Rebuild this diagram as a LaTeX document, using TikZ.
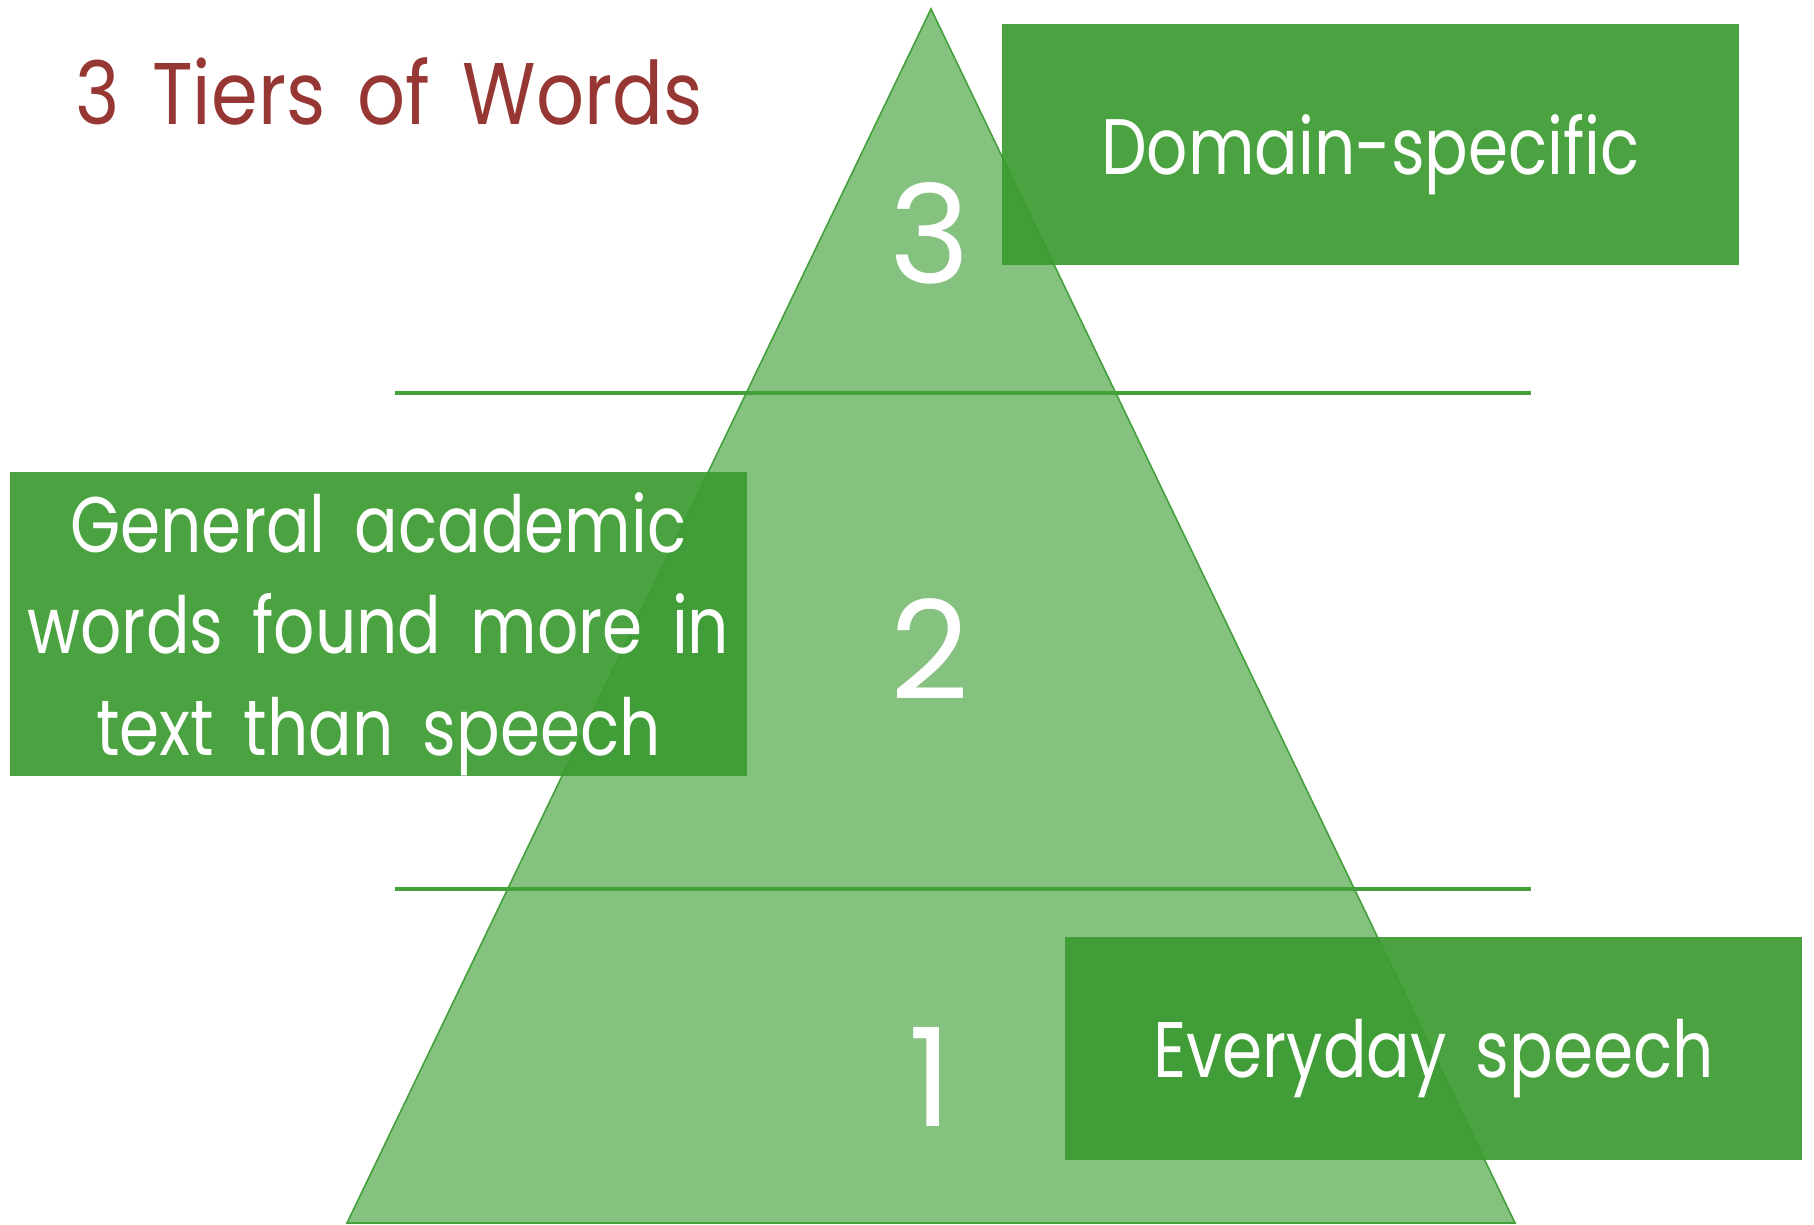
\documentclass[tikz,border=0pt]{standalone}
\usepackage{fontspec}
\setmainfont{Poppins}
\newfontfamily\boxfont{Poppins}[FakeStretch=0.82, WordSpace=1.7]
\newfontfamily\titlefont{Poppins}[FakeStretch=0.86, WordSpace=1.6]
\usepackage{tikz}
\pgfdeclarelayer{edgelayer}
\pgfdeclarelayer{nodelayer}
\pgfsetlayers{edgelayer,nodelayer,main}
\definecolor{tiergreen}{RGB}{67,160,58}
\definecolor{boxgreen}{RGB}{60,155,50}
\definecolor{titlered}{RGB}{150,55,52}
\tikzstyle{none}=[inner sep=0pt]
\tikzstyle{tierbox}=[fill=boxgreen, fill opacity=0.93, text opacity=1, text=white, inner sep=0pt, align=center, minimum width=7.37cm, text depth=0pt, font=\boxfont\fontsize{22.4}{29}\selectfont]
\tikzstyle{tiernum}=[inner sep=0pt, text=white, font=\fontsize{39}{39}\selectfont]

\begin{document}
\begin{tikzpicture}
	\useasboundingbox (0, 0) rectangle (18.14, 12.25);
	\begin{pgfonlayer}{nodelayer}
		\node [style=none] (apex) at (9.31, 12.16) {};
		\node [style=none] (left) at (3.47, 0.02) {};
		\node [style=none] (right) at (15.15, 0.02) {};
		\node [style=none] (a) at (3.95, 8.32) {};
		\node [style=none] (b) at (15.31, 8.32) {};
		\node [style=none] (c) at (3.95, 3.36) {};
		\node [style=none] (d) at (15.31, 3.36) {};
		\node [style=tierbox, minimum height=2.41cm] (tier3) at (13.705, 10.805) {Domain-specific};
		\node [style=tierbox, minimum height=3.04cm] (tier2) at (3.785, 6.01) {General academic\\words found more in\\text than speech};
		\node [style=tierbox, minimum height=2.23cm] (tier1) at (14.335, 1.765) {Everyday speech};
		\node [style=tiernum] (3) at (9.30, 9.92) {3};
		\node [style=tiernum] (2) at (9.30, 5.755) {2};
		\node [style=tiernum] (1) at (9.30, 1.485) {1};
		\node [style=none, anchor=base west, text=titlered, font=\titlefont\fontsize{24.9}{30}\selectfont] (title) at (0.75, 11.0) {3 Tiers of Words};
	\end{pgfonlayer}
	\begin{pgfonlayer}{edgelayer}
		\draw [draw=tiergreen, line width=0.45pt, fill=tiergreen, fill opacity=0.65] (apex.center) -- (left.center) -- (right.center) -- cycle;
		\draw [draw=tiergreen, line width=1.2pt] (a.center) to (b.center);
		\draw [draw=tiergreen, line width=1.2pt] (c.center) to (d.center);
	\end{pgfonlayer}
\end{tikzpicture}
\end{document}
